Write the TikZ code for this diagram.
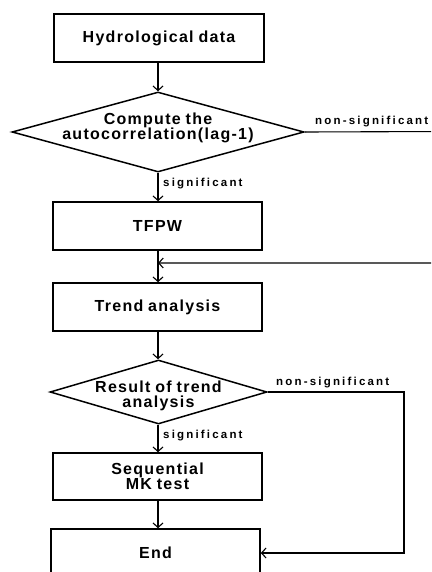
\documentclass[tikz,border=0pt]{standalone}
\usepackage{fontspec}
\setmainfont{Liberation Sans}
\newfontfamily\boxfnt{Liberation Sans}[LetterSpace=8,WordSpace=0.85]
\newfontfamily\lblfnt{Liberation Sans}[LetterSpace=19]
\usetikzlibrary{shapes.geometric,arrows.meta}
\tikzset{
  procbox/.style={draw, line width=1.6pt, rectangle, minimum width=209pt, minimum height=48pt, inner sep=0pt, font=\boxfnt\bfseries\fontsize{16}{16}\selectfont, align=center},
  decbox/.style={draw, line width=1.5pt, diamond, inner sep=0pt, shape aspect=1},
  dectext/.style={align=center, inner sep=0pt},
  conn/.style={line width=1.1pt, -{Straight Barb[length=4.5pt,width=10pt,line width=1.1pt]}},
  lbl/.style={font=\lblfnt\bfseries\fontsize{11.5}{12}\selectfont, inner sep=0pt}
}
\begin{document}
\begin{tikzpicture}[x=1pt,y=-1pt]
\useasboundingbox (0,0) rectangle (431,572);
\clip (0,0) rectangle (431,572);
\fill[white] (0,0) rectangle (431,572);

\node[procbox, minimum width=210pt] (b1) at (159,38) {Hydrological data};
\node[decbox, minimum width=292pt, minimum height=80pt] (d1) at (158,132) {};
\node[dectext, font=\boxfnt\bfseries\fontsize{16}{15.5}\selectfont] (d1t) at (158,128) {Compute the\\autocorrelation(lag-1)};
\node[procbox] (b2) at (157.5,226) {TFPW};
\node[procbox] (b3) at (157.5,307) {Trend analysis};
\node[decbox, minimum width=217pt, minimum height=64pt] (d2) at (158.5,392) {};
\node[dectext, font=\boxfnt\bfseries\fontsize{16}{15.5}\selectfont] (d2t) at (158.5,396) {Result of trend\\analysis};
\node[procbox, minimum height=47pt, font=\boxfnt\bfseries\fontsize{16}{15}\selectfont] (b4) at (157.5,476.5) {Sequential\\MK test};
\node[procbox] (b5) at (155.5,553) {End};

\coordinate (j1) at (158,263);
\coordinate (r1) at (445,131.5);
\coordinate (r2) at (445,263);
\coordinate (k1) at (404,392);
\coordinate (k2) at (404,553);

\draw[conn] (b1.south -| 158,0) -- (d1.north);
\draw[conn] (d1.south) -- (b2.north -| d1.south);
\draw[conn] (b2.south -| 158,0) -- (b3.north -| 158,0);
\draw[conn] (b3.south -| 158,0) -- (d2.north -| 158,0);
\draw[conn] (d2.south -| 158,0) -- (b4.north -| 158,0);
\draw[conn] (b4.south -| 158,0) -- (b5.north -| 158,0);

\draw[conn] (d1.east) -- (r1) -- (r2) -- (j1);
\draw[conn] (d2.east) -- (k1) -- (k2) -- (b5.east |- k2);

\node[lbl, anchor=south west] (l1) at (315,127.5) {non-significant};
\node[lbl, anchor=west] (l2) at (163,184) {significant};
\node[lbl, anchor=south west] (l3) at (276,388.5) {non-significant};
\node[lbl, anchor=west] (l4) at (163,436) {significant};
\end{tikzpicture}
\end{document}
